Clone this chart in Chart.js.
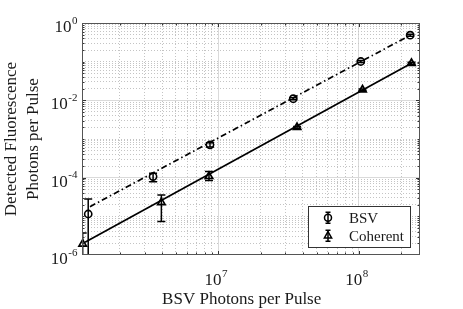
<!DOCTYPE html>
<html><head><meta charset="utf-8">
<script src="https://cdn.jsdelivr.net/npm/chart.js@4.4.0/dist/chart.umd.min.js"></script>
<style>html,body{margin:0;padding:0;background:#fff;}#wrap{width:463px;height:309px;}</style>
</head><body><div id="wrap"><canvas id="c" width="463" height="309" style="width:463px;height:309px"></canvas></div>
<script>
// ---- data ----
const bsvX  = [1.19e6, 3.44e6, 8.73e6, 3.41e7, 1.03e8, 2.31e8];
const bsvY  = [1.15e-5, 1.07e-4, 7.06e-4, 1.10e-2, 0.101, 0.483];
const bsvLo = [1e-7, 7.9e-5, 6.2e-4, 1.03e-2, 0.095, 0.455];
const bsvHi = [2.82e-5, 1.31e-4, 8.0e-4, 1.17e-2, 0.107, 0.51];
const cohX  = [1.087e6, 3.94e6, 8.59e6, 3.63e7, 1.059e8, 2.36e8];
const cohY  = [1.93e-6, 2.29e-5, 1.08e-4, 2.0e-3, 1.87e-2, 9.1e-2];
const cohLo = [1e-7, 7.3e-6, 8.4e-5, 1.88e-3, 1.77e-2, 8.6e-2];
const cohHi = [3.71e-6, 3.58e-5, 1.44e-4, 2.12e-3, 1.97e-2, 9.6e-2];
const bsvFitX = [1.225e6, 2.31e8];
const bsvFitY = [1.78e-5, 0.483];
const cohFitX = [1.129e6, 2.36e8];
const cohFitY = [2.13e-6, 9.1e-2];
const xRange = [1.075e6, 2.714e8];
const yRange = [1e-6, 1];
const xTickLabels = [1e7, 1e8];
const yTickLabels = [1e-6, 1e-4, 1e-2, 1e0];
const seriesNames = ['BSV', 'Coherent'];
const xTitle = 'BSV Photons per Pulse';
const yTitle = ['Detected Fluorescence', 'Photons per Pulse'];

const FONT = "'Liberation Serif','Times New Roman',serif";
const TXT = '#1a1a1a';
const INK = '#000000';
const LW = 1.7;

function decadeTicks(lo, hi) {
  const out = [];
  for (let e = Math.floor(Math.log10(lo)); e <= Math.ceil(Math.log10(hi)); e++) {
    for (let k = 1; k <= 9; k++) {
      const v = k * Math.pow(10, e);
      if (v > lo * 1.0001 && v < hi * 0.9999) out.push(v);
    }
  }
  return out;
}
function isMajorX(v) { return xTickLabels.some(t => Math.abs(t - v) / t < 1e-6); }
function isMajorY(v) { return yTickLabels.some(t => Math.abs(t - v) / t < 1e-6); }
const toPts = (xs, ys) => xs.map((x, i) => ({x, y: ys[i]}));

const errPlugin = {
  id: 'errbars',
  afterDatasetsDraw(chart) {
    const {ctx, chartArea: a, scales: {x, y}} = chart;
    ctx.save();
    ctx.beginPath(); ctx.rect(a.left, a.top, a.right - a.left, a.bottom - a.top); ctx.clip();
    ctx.strokeStyle = INK; ctx.lineWidth = 1.5;
    const draw = (xs, lo, hi) => {
      xs.forEach((xv, i) => {
        const px = x.getPixelForValue(xv);
        const p1 = y.getPixelForValue(lo[i]);
        const p2 = y.getPixelForValue(hi[i]);
        ctx.beginPath();
        ctx.moveTo(px, p1); ctx.lineTo(px, p2);
        ctx.moveTo(px - 4, p1); ctx.lineTo(px + 4, p1);
        ctx.moveTo(px - 4, p2); ctx.lineTo(px + 4, p2);
        ctx.stroke();
      });
    };
    draw(bsvX, bsvLo, bsvHi);
    draw(cohX, cohLo, cohHi);
    ctx.restore();
  }
};

function drawPow(ctx, v, xPos, base, align, supShift) {
  const e = String(Math.round(Math.log10(v)));
  ctx.font = '17px ' + FONT;
  const w1 = ctx.measureText('10').width;
  ctx.font = '11px ' + FONT;
  const w2 = ctx.measureText(e).width;
  const x0 = align === 'center' ? xPos - (w1 + w2) / 2 : xPos - w1 - w2;
  ctx.textAlign = 'left';
  ctx.textBaseline = 'alphabetic';
  ctx.font = '17px ' + FONT;
  ctx.fillText('10', x0, base);
  ctx.font = '11px ' + FONT;
  ctx.fillText(e, x0 + w1 + 0.5, base - supShift);
}

const framePlugin = {
  id: 'frame',
  afterDraw(chart) {
    const {ctx, chartArea: a, scales: {x, y}} = chart;
    ctx.save();
    // inner tick marks on all four sides
    ctx.strokeStyle = '#333'; ctx.lineWidth = 1;
    ctx.beginPath();
    x.ticks.forEach(t => {
      const px = Math.round(x.getPixelForValue(t.value)) + 0.5;
      const L = isMajorX(t.value) ? 4 : 2.5;
      ctx.moveTo(px, a.bottom); ctx.lineTo(px, a.bottom - L);
      ctx.moveTo(px, a.top); ctx.lineTo(px, a.top + L);
    });
    y.ticks.forEach(t => {
      const py = Math.round(y.getPixelForValue(t.value)) + 0.5;
      const L = isMajorY(t.value) ? 4 : 2.5;
      ctx.moveTo(a.left, py); ctx.lineTo(a.left + L, py);
      ctx.moveTo(a.right, py); ctx.lineTo(a.right - L, py);
    });
    ctx.stroke();
    // axes box
    ctx.strokeStyle = '#555'; ctx.lineWidth = 1;
    ctx.strokeRect(Math.round(a.left) + 0.5, Math.round(a.top) + 0.5,
                   Math.round(a.right - a.left) - 1, Math.round(a.bottom - a.top) - 1);
    // tick labels (10 with superscript exponent)
    ctx.fillStyle = TXT;
    xTickLabels.forEach(v => drawPow(ctx, v, x.getPixelForValue(v) - 2.5, a.bottom + 30, 'center', 8.3));
    yTickLabels.forEach(v => drawPow(ctx, v, 77, y.getPixelForValue(v) + 9, 'right', 8.2));
    // x axis title
    ctx.font = '17px ' + FONT;
    ctx.textAlign = 'center'; ctx.textBaseline = 'alphabetic';
    ctx.fillText(xTitle, (a.left + a.right) / 2 - 9.3, 304);
    // legend
    const bx = 308, by = 206, bw = 102, bh = 41;
    ctx.fillStyle = '#fff';
    ctx.fillRect(bx, by, bw, bh);
    ctx.strokeStyle = '#333'; ctx.lineWidth = 1;
    ctx.strokeRect(bx + 0.5, by + 0.5, bw, bh);
    const rows = [
      {name: seriesNames[0], cy: 217.8, style: 'circle', r: 3.5},
      {name: seriesNames[1], cy: 235.8, style: 'triangle', r: 4.2}
    ];
    rows.forEach(rw => {
      const mx = 328;
      ctx.strokeStyle = INK; ctx.lineWidth = 1.5;
      ctx.beginPath();
      ctx.moveTo(mx, rw.cy - 5.5); ctx.lineTo(mx, rw.cy + 5.5);
      ctx.moveTo(mx - 2.5, rw.cy - 5.5); ctx.lineTo(mx + 2.5, rw.cy - 5.5);
      ctx.moveTo(mx - 2.5, rw.cy + 5.5); ctx.lineTo(mx + 2.5, rw.cy + 5.5);
      ctx.stroke();
      ctx.fillStyle = 'rgba(0,0,0,0)';
      Chart.helpers.drawPoint(ctx, {pointStyle: rw.style, radius: rw.r, borderWidth: 1.5, rotation: 0}, mx, rw.cy);
      ctx.fillStyle = TXT;
      ctx.font = '15px ' + FONT;
      ctx.textAlign = 'left'; ctx.textBaseline = 'alphabetic';
      ctx.fillText(rw.name, 349, rw.cy + 5);
    });
    ctx.restore();
  }
};

const gridColor = (isMaj) => (c) => (c.tick && isMaj(c.tick.value)) ? '#dadada' : '#c4c4c4';
const gridDash = (isMaj) => (c) => (c.tick && !isMaj(c.tick.value)) ? [1, 2] : [];

new Chart(document.getElementById('c'), {
  type: 'scatter',
  data: {
    datasets: [
      {label: seriesNames[0], data: toPts(bsvX, bsvY), showLine: false, pointStyle: 'circle',
       pointRadius: 3.6, pointBorderWidth: 1.6, borderColor: INK, backgroundColor: 'rgba(0,0,0,0)', clip: false},
      {label: seriesNames[1], data: toPts(cohX, cohY), showLine: false, pointStyle: 'triangle',
       pointRadius: 4.3, pointBorderWidth: 1.7, borderColor: INK, backgroundColor: 'rgba(0,0,0,0)', clip: false},
      {label: 'BSV fit', data: toPts(bsvFitX, bsvFitY), showLine: true, pointRadius: 0,
       borderColor: INK, borderWidth: LW, borderDash: [6, 3, 1.5, 3]},
      {label: 'Coherent fit', data: toPts(cohFitX, cohFitY), showLine: true, pointRadius: 0,
       borderColor: INK, borderWidth: LW}
    ]
  },
  options: {
    responsive: false, animation: false, devicePixelRatio: 1,
    layout: {padding: {top: 23, right: 43, left: 0, bottom: 0}},
    plugins: {legend: {display: false}, tooltip: {enabled: false}},
    scales: {
      x: {
        type: 'logarithmic', min: xRange[0], max: xRange[1],
        afterBuildTicks: (s) => { s.ticks = decadeTicks(xRange[0], xRange[1]).map(v => ({value: v, major: isMajorX(v)})); },
        afterFit: (s) => { s.height = 54; },
        ticks: {display: false},
        grid: {color: gridColor(isMajorX), lineWidth: 1, drawTicks: false},
        border: {display: false, dash: gridDash(isMajorX)},
        title: {display: false, text: xTitle}
      },
      y: {
        type: 'logarithmic', min: yRange[0], max: yRange[1],
        afterBuildTicks: (s) => { s.ticks = decadeTicks(yRange[0], yRange[1]).map(v => ({value: v, major: isMajorY(v)})); },
        afterFit: (s) => { s.width = 82; },
        ticks: {display: false},
        grid: {color: gridColor(isMajorY), lineWidth: 1, drawTicks: false},
        border: {display: false, dash: gridDash(isMajorY)},
        title: {display: true, text: yTitle, color: TXT, font: {family: FONT, size: 17, lineHeight: 1.33}, padding: {top: 0, bottom: 0}}
      }
    }
  },
  plugins: [errPlugin, framePlugin]
});
</script></body></html>
